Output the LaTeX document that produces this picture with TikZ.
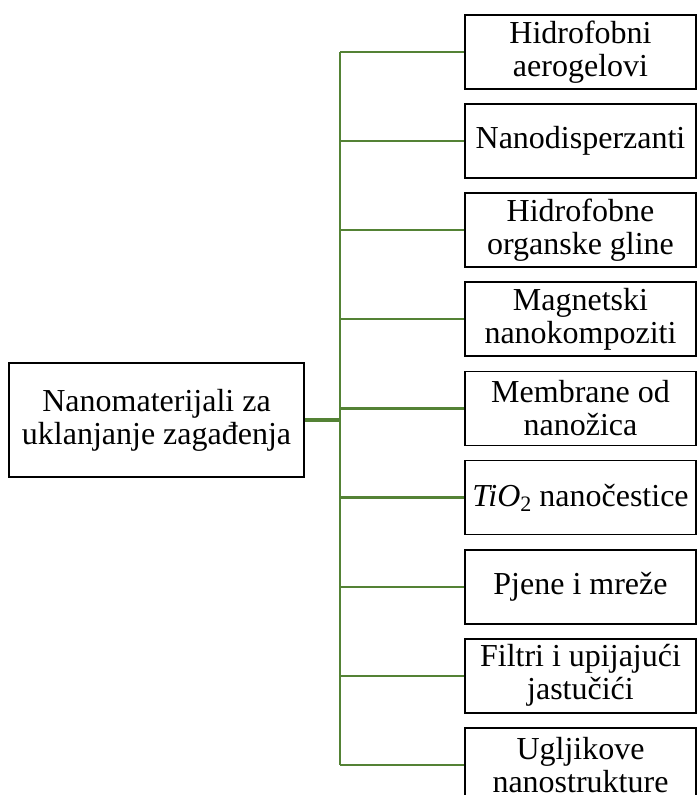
\documentclass[tikz,border=0pt]{standalone}
\usepackage{fontspec}
\setmainfont{Liberation Serif}
\definecolor{branchgreen}{RGB}{84,130,53}
\begin{document}
\begin{tikzpicture}[x=1pt,y=-1pt,
  txt/.style={font=\fontsize{32}{33}\selectfont, align=center, inner sep=0pt},
  itembox/.style={txt, draw=black, line width=1.8pt, minimum width=231pt, minimum height=74pt},
  rootbox/.style={txt, draw=black, line width=1.9pt, minimum width=295pt, minimum height=114pt},
  branch/.style={draw=branchgreen, line width=2.2pt},
  stub/.style={draw=branchgreen, line width=4.5pt}]
\useasboundingbox (0,0) rectangle (697,795);
\node[rootbox] (root) at (156.5,420) {Nanomaterijali za\\uklanjanje zagađenja};
\foreach \i/\t in {1/{Hidrofobni\\aerogelovi},
                   2/{Nanodisperzanti},
                   3/{Hidrofobne\\organske gline},
                   4/{Magnetski\\nanokompoziti},
                   5/{Membrane od\\nanožica},
                   6/{{\itshape TiO}\raisebox{-0.35ex}{\fontsize{22}{22}\selectfont 2} nanočestice},
                   7/{Pjene i mreže},
                   8/{Filtri i upijajući\\jastučići},
                   9/{Ugljikove\\nanostrukture}}{
  \node[itembox] (r\i) at (580.5,{52+89.1*(\i-1)}) {\t};
  \coordinate (j\i) at (340,{52+89.1*(\i-1)});
  \draw[branch] (j\i) -- (r\i.west);
}
\draw[branch] (j1) -- (j9);
\coordinate (jroot) at (341,420);
\draw[stub] (root.east) -- (jroot);
\end{tikzpicture}
\end{document}
